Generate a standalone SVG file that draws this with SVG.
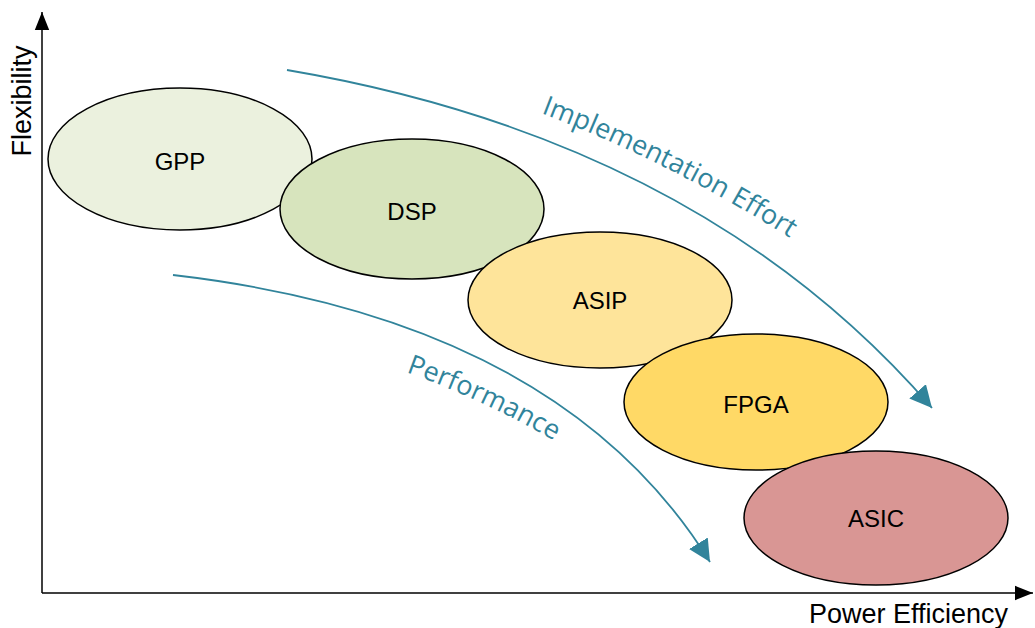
<svg xmlns="http://www.w3.org/2000/svg" width="1035" height="628" viewBox="0 0 1035 628">
  <style>
    .node ellipse { stroke: #000; stroke-width: 1.5; }
    .node text { font-family: "Liberation Sans", Arial, sans-serif; font-size: 24px; fill: #000; text-anchor: middle; dominant-baseline: central; }
    .axis { stroke: #000; stroke-width: 1.5; fill: none; }
    .axis-label { font-family: "Liberation Sans", Arial, sans-serif; font-size: 27px; fill: #000; }
    .trend { stroke: #31849B; stroke-width: 1.8; fill: none; }
    .trend-label { font-family: "Open Sans", "Liberation Sans", sans-serif; font-size: 27px; fill: #31849B; }
  </style>
  <defs>
    <marker id="axisHead" viewBox="0 0 10 10" refX="10" refY="5" markerWidth="18" markerHeight="18" markerUnits="userSpaceOnUse" orient="auto">
      <path d="M0,1 L10,5 L0,9 Z" fill="#000"/>
    </marker>
    <marker id="trendHead" viewBox="0 0 10 10" refX="10" refY="5" markerWidth="22" markerHeight="22" markerUnits="userSpaceOnUse" orient="auto">
      <path d="M0,0 L10,5 L0,10 Z" fill="#31849B"/>
    </marker>
    <!-- baselines for the curved trend labels -->
    <path id="effortText" d="M541,113 Q680,166 812,252"/>
    <path id="perfText" d="M406,372 Q490,402 570,450"/>
  </defs>

  <!-- axes -->
  <g id="axes">
    <line class="axis" x1="42" y1="593" x2="42" y2="12" marker-end="url(#axisHead)"/>
    <line class="axis" x1="42" y1="593" x2="1033" y2="593" marker-end="url(#axisHead)"/>
    <text class="axis-label" transform="translate(31,101) rotate(-90)" text-anchor="middle">Flexibility</text>
    <text class="axis-label" x="1008" y="623" text-anchor="end">Power Efficiency</text>
  </g>

  <!-- trend connectors -->
  <g id="connectors">
    <path class="trend" d="M287,70 Q700,140 932,408" marker-end="url(#trendHead)"/>
    <path class="trend" d="M173,275 Q560,320 710,562" marker-end="url(#trendHead)"/>
    <text class="trend-label"><textPath href="#effortText">Implementation Effort</textPath></text>
    <text class="trend-label"><textPath href="#perfText">Performance</textPath></text>
  </g>

  <!-- nodes -->
  <g id="gpp" class="node">
    <ellipse cx="180" cy="159" rx="132" ry="71" fill="#EBF1DE"/>
    <text x="180" y="161">GPP</text>
  </g>
  <g id="dsp" class="node">
    <ellipse cx="412" cy="209" rx="132" ry="70" fill="#D7E4BD"/>
    <text x="412" y="211">DSP</text>
  </g>
  <g id="asip" class="node">
    <ellipse cx="600" cy="300" rx="132" ry="68" fill="#FEE49A"/>
    <text x="600" y="300">ASIP</text>
  </g>
  <g id="fpga" class="node">
    <ellipse cx="756" cy="402" rx="132" ry="68" fill="#FFD966"/>
    <text x="756" y="404">FPGA</text>
  </g>
  <g id="asic" class="node">
    <ellipse cx="876" cy="518" rx="132" ry="67" fill="#D99694"/>
    <text x="876" y="518">ASIC</text>
  </g>
</svg>
